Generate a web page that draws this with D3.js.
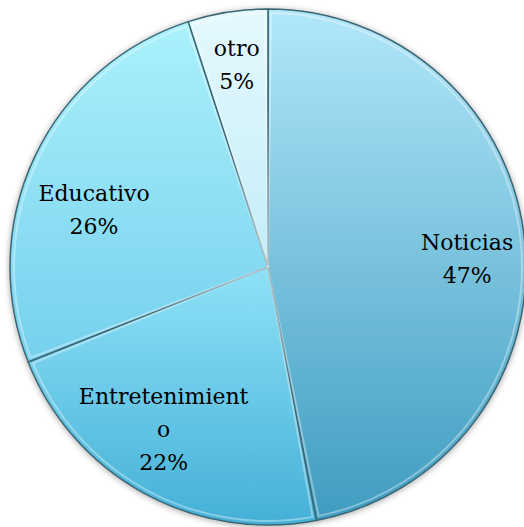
<!DOCTYPE html>
<html><head><meta charset="utf-8">
<script src="https://cdn.jsdelivr.net/npm/d3@7"></script>
<style>html,body{margin:0;padding:0;background:#fff;}svg{display:block;}</style>
</head><body>
<svg id="chart" width="524" height="527"></svg>
<script>
const categories = ["Noticias", "Entretenimiento", "Educativo", "otro"];
const values = [47, 22, 26, 5];
const labelLines = [["Noticias"], ["Entretenimient", "o"], ["Educativo"], ["otro"]];

// styling / layout (not data)
const topColors = ["#b2e7fa", "#8fe2f7", "#aaf1fc", "#e4f9fd"];
const bottomColors = ["#3f9cc0", "#44b0d7", "#76d0ed", "#c4edf8"];
const labelNudge = [[0, 10], [-8, -13], [7, 28], [0, -5]];

const W = 524, H = 527, cx = 268, cy = 267, R = 258;
const svg = d3.select("#chart");
const defs = svg.append("defs");

categories.forEach((c, i) => {
  const g = defs.append("linearGradient").attr("id", "g" + i)
    .attr("x1", 0).attr("y1", 0).attr("x2", 0).attr("y2", 1);
  g.append("stop").attr("offset", "0%").attr("stop-color", topColors[i]);
  g.append("stop").attr("offset", "100%").attr("stop-color", bottomColors[i]);
});
const f = defs.append("filter").attr("id", "sh").attr("x", "-10%").attr("y", "-10%").attr("width", "120%").attr("height", "120%");
f.append("feGaussianBlur").attr("in", "SourceAlpha").attr("stdDeviation", 3).attr("result", "b");
f.append("feOffset").attr("in", "b").attr("dx", 0).attr("dy", 1).attr("result", "o");
f.append("feComponentTransfer").attr("in", "o").attr("result", "o2")
  .append("feFuncA").attr("type", "linear").attr("slope", 0.35);
const m = f.append("feMerge");
m.append("feMergeNode").attr("in", "o2");
m.append("feMergeNode").attr("in", "SourceGraphic");

const pie = d3.pie().sort(null).value(d => d)(values);
const arc = d3.arc().innerRadius(0).outerRadius(R);
const bevel = d3.arc().innerRadius(0).outerRadius(R - 4);
const labelArc = d3.arc().innerRadius(200).outerRadius(200);

const g = svg.append("g").attr("transform", `translate(${cx},${cy})`);
g.append("g").attr("filter", "url(#sh)").selectAll("path").data(pie).join("path")
  .attr("d", arc)
  .attr("fill", (d, i) => `url(#g${i})`)
  .attr("stroke", "#3d6673").attr("stroke-width", 1.5).attr("stroke-linejoin", "round");
// bevel highlights
g.append("g").selectAll("path").data(pie).join("path")
  .attr("d", d => bevel({startAngle: d.startAngle + 0.012, endAngle: d.endAngle - 0.012}))
  .attr("fill", "none").attr("stroke", "rgba(255,255,255,0.35)").attr("stroke-width", 2);

const lh = 33;
g.append("g").selectAll("text").data(pie).join("text")
  .attr("font-family", "'DejaVu Serif', serif").attr("font-size", 22).attr("fill", "#000")
  .attr("text-anchor", "middle")
  .each(function(d, i) {
    const [x0, y] = labelArc.centroid(d);
    const x = x0 + labelNudge[i][0];
    const lines = labelLines[i].concat([values[i] + "%"]);
    const t = d3.select(this);
    const y0 = y - (lines.length - 1) * lh / 2 + 8 + labelNudge[i][1];
    lines.forEach((s, k) => t.append("tspan").attr("x", x).attr("y", y0 + k * lh).text(s));
  });
</script>
</body></html>
